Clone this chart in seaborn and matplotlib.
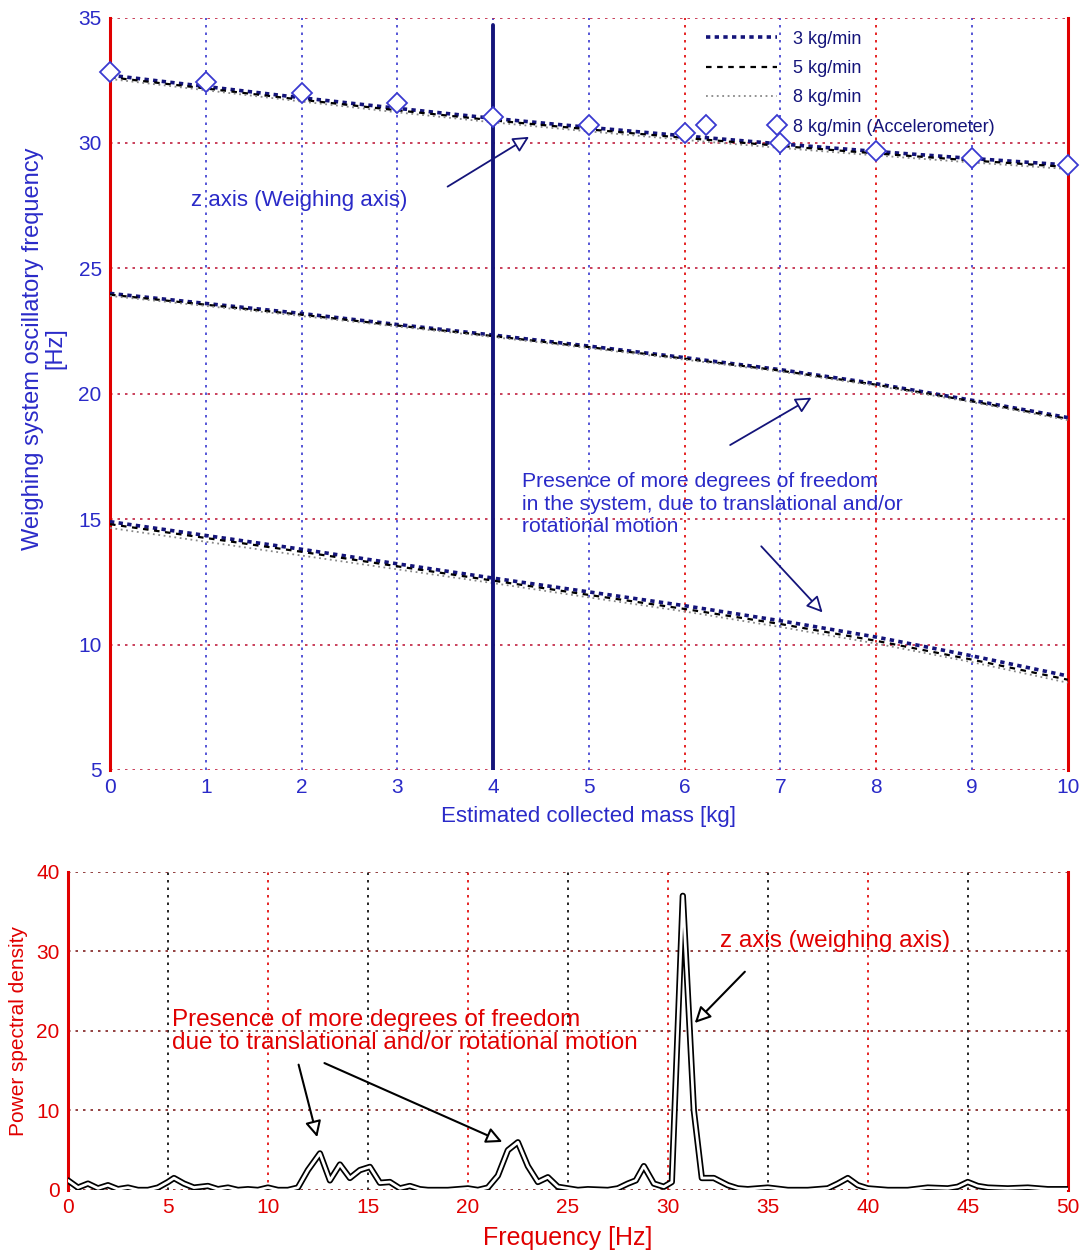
import numpy as np
import pandas as pd
import matplotlib
matplotlib.use("Agg")
import matplotlib.pyplot as plt
import seaborn as sns

# ---------------- data: top panel ----------------
mass = [0, 1, 2, 3, 4, 5, 6, 7, 8, 9, 10]

# z axis (weighing axis) group
z_3 = [32.70, 32.25, 31.80, 31.38, 30.98, 30.62, 30.28, 29.96, 29.66, 29.38, 29.12]
z_5 = [32.62, 32.17, 31.72, 31.30, 30.90, 30.54, 30.20, 29.88, 29.58, 29.30, 29.04]
z_8 = [32.55, 32.10, 31.65, 31.22, 30.82, 30.46, 30.12, 29.80, 29.50, 29.22, 28.96]
z_acc = [32.83, 32.43, 31.99, 31.59, 31.04, 30.72, 30.40, 30.00, 29.68, 29.40, 29.12]

# middle group
m_3 = [24.00, 23.60, 23.20, 22.76, 22.34, 21.90, 21.44, 20.96, 20.40, 19.74, 19.05]
m_5 = [23.95, 23.55, 23.15, 22.72, 22.30, 21.86, 21.40, 20.92, 20.36, 19.70, 19.00]
m_8 = [23.90, 23.50, 23.10, 22.68, 22.26, 21.82, 21.36, 20.88, 20.32, 19.66, 18.95]

# lower group
l_3 = [14.90, 14.35, 13.80, 13.22, 12.65, 12.10, 11.55, 10.95, 10.30, 9.55, 8.75]
l_5 = [14.80, 14.25, 13.70, 13.12, 12.55, 11.98, 11.42, 10.82, 10.15, 9.40, 8.60]
l_8 = [14.65, 14.10, 13.55, 13.00, 12.45, 11.88, 11.32, 10.70, 10.04, 9.30, 8.48]

flow_labels = ["3 kg/min", "5 kg/min", "8 kg/min", "8 kg/min (Accelerometer)"]
mass_ticks = [0, 1, 2, 3, 4, 5, 6, 7, 8, 9, 10]
freq_ticks_top = [5, 10, 15, 20, 25, 30, 35]

# ---------------- data: bottom panel ----------------
freq = [0, 0.5, 1, 1.5, 2, 2.5, 3, 3.5, 4, 4.5, 5, 5.3, 5.8, 6.3, 7, 7.5, 8, 8.5, 9,
        9.5, 10, 10.5, 11, 11.5, 12, 12.6, 13.1, 13.6, 14.1, 14.6, 15.1, 15.6, 16.1,
        16.6, 17.1, 17.6, 18, 19, 20, 20.5, 21, 21.5, 22, 22.5, 23, 23.5, 24, 24.5, 25,
        25.5, 26, 27, 27.5, 28, 28.4, 28.8, 29.3, 29.8, 30.2, 30.75, 31.3, 31.7, 32.3,
        33, 33.5, 34, 35, 36, 37, 38, 38.5, 39, 39.5, 40, 41, 42, 43, 44, 44.5, 45,
        45.5, 46, 47, 48, 49, 50]
psd = [1.2, 0.3, 0.8, 0.2, 0.6, 0.1, 0.3, 0.0, 0.0, 0.3, 1.0, 1.5, 0.8, 0.3, 0.5, 0.1,
       0.3, 0.0, 0.1, 0.0, 0.3, 0.0, 0.0, 0.3, 2.5, 4.6, 1.2, 3.2, 1.5, 2.5, 2.9, 0.9,
       1.0, 0.2, 0.5, 0.1, 0.0, 0.0, 0.2, 0.0, 0.3, 1.8, 5.0, 6.0, 3.0, 1.0, 1.6, 0.4,
       0.2, 0.0, 0.1, 0.0, 0.2, 0.8, 1.2, 3.0, 0.8, 0.4, 1.0, 37.0, 10.0, 1.5, 1.5,
       0.6, 0.2, 0.1, 0.3, 0.0, 0.0, 0.2, 0.8, 1.5, 0.6, 0.2, 0.0, 0.0, 0.3, 0.2, 0.4,
       1.0, 0.5, 0.3, 0.2, 0.3, 0.1, 0.1]
psd_yticks = [0, 10, 20, 30, 40]
freq_xticks = [0, 5, 10, 15, 20, 25, 30, 35, 40, 45, 50]

# ---------------- style ----------------
sns.set_theme(style="white")
plt.rcParams["font.family"] = ["Liberation Sans", "DejaVu Sans"]

BLUE_TXT = "#2a2ac8"
NAVY = "#14147a"
RED = "#e00000"
FS = 15

fig = plt.figure(figsize=(10.84, 12.51), dpi=100)
ax1 = fig.add_axes([0.1015, 0.3845, 0.8835, 0.6015])
ax2 = fig.add_axes([0.0627, 0.0488, 0.9223, 0.2542])

# ---------- top panel ----------
df_lines = []
for grp, (a, b, c) in {"z": (z_3, z_5, z_8), "m": (m_3, m_5, m_8), "l": (l_3, l_5, l_8)}.items():
    for lab, vals in zip(flow_labels[:3], (a, b, c)):
        df_lines.append(pd.DataFrame({"mass": mass, "freq": vals, "flow": lab, "grp": grp}))
df_lines = pd.concat(df_lines, ignore_index=True)

styles = {
    "3 kg/min": dict(color=NAVY, lw=2.6, ls=(0, (1.2, 1.2))),
    "5 kg/min": dict(color="black", lw=1.6, ls=(0, (2.5, 2.5))),
    "8 kg/min": dict(color="#888888", lw=1.3, ls=(0, (1, 2))),
}
for (grp, lab), sub in df_lines.groupby(["grp", "flow"], sort=False):
    st = styles[lab]
    sns.lineplot(data=sub, x="mass", y="freq", ax=ax1, color=st["color"],
                 linewidth=st["lw"], linestyle=st["ls"], estimator=None,
                 label=lab if grp == "z" else None, legend=False, zorder=3)

df_acc = pd.DataFrame({"mass": mass, "freq": z_acc})
ax1.plot(df_acc["mass"], df_acc["freq"], linestyle="none", marker="D", markersize=10,
         markerfacecolor="white", markeredgecolor="#3a3ad0", markeredgewidth=1.3,
         label=flow_labels[3], zorder=5, clip_on=False)

ax1.axvline(4, color=NAVY, lw=2.8, ymin=0.0, ymax=0.99, zorder=4)

ax1.set_xlim(0, 10)
ax1.set_ylim(5, 35)
ax1.set_xticks(mass_ticks)
ax1.set_yticks(freq_ticks_top)
ax1.tick_params(axis="both", length=0, labelsize=FS, labelcolor=BLUE_TXT, pad=6)
ax1.grid(True, axis="x", color="#3a3ad0", linestyle=(0, (1.5, 3)), linewidth=1.2)
ax1.grid(True, axis="y", color="#c02040", linestyle=(0, (1.5, 3)), linewidth=1.2)
for i, gl in enumerate(ax1.xaxis.get_gridlines()):
    if mass_ticks[i] in (6, 8):
        gl.set_color(RED)
for s in ("top", "bottom"):
    ax1.spines[s].set_visible(False)
for s in ("left", "right"):
    ax1.spines[s].set_color(RED)
    ax1.spines[s].set_linewidth(2.2)

ax1.set_xlabel("Estimated collected mass [kg]", fontsize=16, color=BLUE_TXT, labelpad=6)
ax1.set_ylabel("Weighing system oscillatory frequency\n[Hz]", fontsize=17,
               color=BLUE_TXT, linespacing=1.0)
ax1.yaxis.set_label_coords(-0.046, 0.56)

leg = ax1.legend(loc="upper left", bbox_to_anchor=(0.60, 1.004), frameon=False,
                 fontsize=13, numpoints=2, handlelength=4.5, labelspacing=0.68,
                 handletextpad=0.6)
for t in leg.get_texts():
    t.set_color(NAVY)

arrow_top = dict(arrowstyle="-|>", edgecolor=NAVY, facecolor="white", lw=1.3,
                 mutation_scale=24)
ax1.text(0.85, 27.7, "z axis (Weighing axis)", fontsize=16, color=BLUE_TXT,
         ha="left", va="center")
ax1.annotate("", xy=(4.4, 30.3), xytext=(3.5, 28.2), arrowprops=arrow_top)
ax1.annotate("", xy=(7.35, 19.9), xytext=(6.45, 17.9), arrowprops=arrow_top)
ax1.annotate("", xy=(7.46, 11.2), xytext=(6.78, 14.0), arrowprops=arrow_top)
ax1.text(4.3, 15.6,
         "Presence of more degrees of freedom\nin the system, due to translational and/or\nrotational motion",
         fontsize=15.2, color=BLUE_TXT, ha="left", va="center", linespacing=1.25)

# ---------- bottom panel ----------
df_psd = pd.DataFrame({"f": freq, "p": psd})
sns.lineplot(data=df_psd, x="f", y="p", ax=ax2, color="black", linewidth=4.5,
             estimator=None, zorder=3)
sns.lineplot(data=df_psd, x="f", y="p", ax=ax2, color="white", linewidth=2.0,
             estimator=None, zorder=4)

ax2.set_xlim(0, 50)
ax2.set_ylim(0, 40)
ax2.set_xticks(freq_xticks)
ax2.set_yticks(psd_yticks)
ax2.tick_params(axis="both", length=0, labelsize=FS, labelcolor=RED, pad=6)
ax2.grid(True, axis="x", color="black", linestyle=(0, (1.5, 3)), linewidth=1.2)
ax2.grid(True, axis="y", color="#802020", linestyle=(0, (1.5, 3)), linewidth=1.2)
for i, gl in enumerate(ax2.xaxis.get_gridlines()):
    if freq_xticks[i] in (10, 20, 30, 40):
        gl.set_color(RED)
for s in ("top", "bottom"):
    ax2.spines[s].set_visible(False)
for s in ("left", "right"):
    ax2.spines[s].set_color(RED)
    ax2.spines[s].set_linewidth(2.2)

ax2.set_xlabel("Frequency [Hz]", fontsize=18, color=RED, labelpad=6)
ax2.set_ylabel("Power spectral density", fontsize=15, color=RED, labelpad=6)

arrow_bot = dict(arrowstyle="-|>", edgecolor="black", facecolor="white", lw=1.5,
                 mutation_scale=24)
ax2.text(32.6, 31.3, "z axis (weighing axis)", fontsize=17.5, color=RED,
         ha="left", va="center")
ax2.annotate("", xy=(31.25, 20.75), xytext=(33.95, 27.7), arrowprops=arrow_bot)
ax2.text(5.2, 19.9,
         "Presence of more degrees of freedom\ndue to translational and/or rotational motion",
         fontsize=17.5, color=RED, ha="left", va="center", linespacing=1.05)
ax2.annotate("", xy=(12.5, 6.3), xytext=(11.5, 16.1), arrowprops=arrow_bot)
ax2.annotate("", xy=(21.85, 5.9), xytext=(12.7, 16.1), arrowprops=arrow_bot)

fig.savefig("out.png", dpi=100)
